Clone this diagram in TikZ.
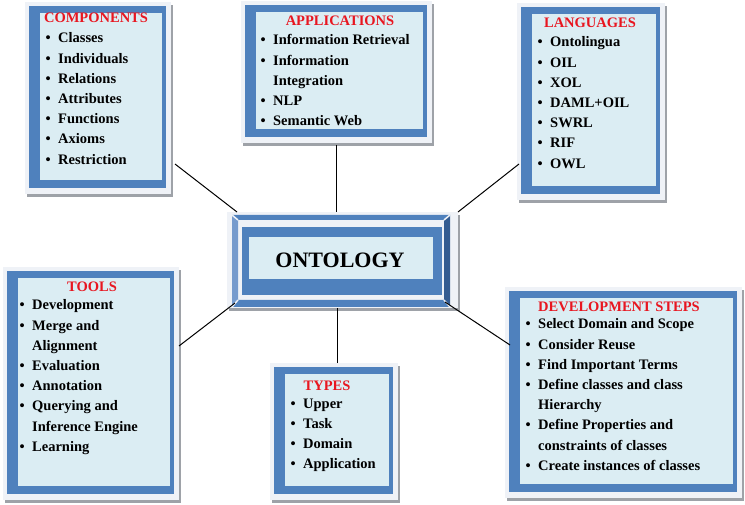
\documentclass[tikz,border=0pt]{standalone}
\usepackage{fontspec}
\setmainfont{Liberation Serif}
\usepackage{xcolor}
\usepackage{tikz}
\usetikzlibrary{calc}
\definecolor{framebg}{RGB}{239,242,247}
\definecolor{shadowgray}{RGB}{158,162,168}
\definecolor{boxblue}{RGB}{79,129,189}
\definecolor{paleblue}{RGB}{219,237,243}
\definecolor{bevlight}{RGB}{118,155,205}
\definecolor{bevdark}{RGB}{52,92,145}
\definecolor{titlered}{RGB}{232,22,32}

% framed panel : name, x1, y1, x2, y2 (outer frame, in px)
\newcommand{\panel}[5]{%
  \fill[shadowgray] ({#2+2},{#3+3}) rectangle ({#4+2},{#5+3});
  \node[box,minimum width={(#4-#2)*1pt},minimum height={(#5-#3)*1pt}] (#1)
    at ({(#2+#4)/2},{(#3+#5)/2}) {};
  \fill[boxblue] ({#2+4},{#3+4}) rectangle ({#4-5},{#5-6});
  \fill[paleblue] ({#2+15},{#3+11}) rectangle ({#4-9},{#5-14});}
\newcommand{\itm}{\makebox[12.5pt][l]{\textbullet}}
\newcommand{\itmcont}{\hspace*{12.5pt}}

\begin{document}
\begin{tikzpicture}[x=1pt,y=-1pt,
    box/.style={fill=framebg,inner sep=0,outer sep=0},
    ttl/.style={text=titlered,anchor=base,inner sep=0,
                font=\bfseries\fontsize{14.5}{20.2}\selectfont},
    lst/.style={anchor=base west,inner sep=0,
                font=\bfseries\fontsize{14.5}{20.2}\selectfont},
    link/.style={line width=1pt,black}]
    % 1 unit = 1 px of the 745x505 layout
    \useasboundingbox (0,0) rectangle (745,505);

    \panel{comp}{25}{2}{171}{194}
    \panel{apps}{241}{1}{432}{143}
    \panel{langs}{517}{3}{665}{200}
    \panel{tools}{3}{267}{179}{500}
    \panel{types}{270}{363}{398}{500}
    \panel{dev}{505}{287}{742}{498}

    % centre box
    \fill[shadowgray] (229,215) rectangle (460,311);
    \node[box,minimum width=231pt,minimum height=96pt] (onto) at (342.5,260) {};
    \fill[boxblue] (232,215) -- (450,215) -- (444,220) -- (238,220) -- cycle;
    \fill[bevlight] (232,215) -- (238,220) -- (238,300) -- (232,307) -- cycle;
    \fill[bevdark] (450,215) -- (450,307) -- (444,300) -- (444,220) -- cycle;
    \fill[boxblue] (232,307) -- (238,300) -- (444,300) -- (450,307) -- cycle;
    \draw[framebg,line width=1.5pt] (232,215) -- (238,220) (450,215) -- (444,220)
      (232,307) -- (238,300) (450,307) -- (444,300);
    \fill[boxblue] (242,227) rectangle (442,295);
    \fill[paleblue] (249,237) rectangle (433,279);
    \node[inner sep=0,font=\bfseries\fontsize{22}{26}\selectfont] (onto-t) at (340,260) {ONTOLOGY};

    \node[ttl] (comp-t) at (96,23) {COMPONENTS};
    \node[lst] (comp-l) at (45.5,43) {\begin{tabular}[t]{@{}l@{}}
      \itm Classes\\ \itm Individuals\\ \itm Relations\\ \itm Attributes\\
      \itm Functions\\ \itm Axioms\\ \itm Restriction\end{tabular}};

    \node[ttl] (apps-t) at (340,26) {APPLICATIONS};
    \node[lst] (apps-l) at (260.5,45) {\begin{tabular}[t]{@{}l@{}}
      \itm Information Retrieval\\ \itm Information\\ \itmcont Integration\\
      \itm NLP\\ \itm Semantic Web\end{tabular}};

    \node[ttl] (langs-t) at (590,28) {LANGUAGES};
    \node[lst] (langs-l) at (537.5,47) {\begin{tabular}[t]{@{}l@{}}
      \itm Ontolingua\\ \itm OIL\\ \itm XOL\\ \itm DAML+OIL\\
      \itm SWRL\\ \itm RIF\\ \itm OWL\end{tabular}};

    \node[ttl] (tools-t) at (92,292) {TOOLS};
    \node[lst] (tools-l) at (19.5,310) {\begin{tabular}[t]{@{}l@{}}
      \itm Development\\ \itm Merge and\\ \itmcont Alignment\\ \itm Evaluation\\
      \itm Annotation\\ \itm Querying and\\ \itmcont Inference Engine\\
      \itm Learning\end{tabular}};

    \node[ttl] (types-t) at (327,390) {TYPES};
    \node[lst] (types-l) at (290.5,408) {\begin{tabular}[t]{@{}l@{}}
      \itm Upper\\ \itm Task\\ \itm Domain\\ \itm Application\end{tabular}};

    \node[ttl] (dev-t) at (619,312) {DEVELOPMENT STEPS};
    \node[lst] (dev-l) at (525.5,329) {\begin{tabular}[t]{@{}l@{}}
      \itm Select Domain and Scope\\ \itm Consider Reuse\\
      \itm Find Important Terms\\ \itm Define classes and class\\
      \itmcont Hierarchy\\ \itm Define Properties and\\
      \itmcont constraints of classes\\ \itm Create instances of classes\end{tabular}};

    % connectors
    \draw[link] ([xshift=4pt,yshift=30pt]comp.south east) -- ([xshift=10pt]onto.north west);
    \draw[link] ([yshift=-2pt]apps.south) -- (apps.south |- onto.north);
    \draw[link] ([xshift=2pt,yshift=36pt]langs.south west) -- (onto.north east);
    \draw[link] ([yshift=37.5pt]tools.east) -- ([xshift=8pt,yshift=5pt]onto.south west);
    \draw[link] ([xshift=3pt]types.north) -- ([xshift=3pt]types.north |- onto.south);
    \draw[link] ([xshift=5pt,yshift=47.5pt]dev.west) -- ([xshift=-13pt,yshift=6pt]onto.south east);
\end{tikzpicture}
\end{document}
